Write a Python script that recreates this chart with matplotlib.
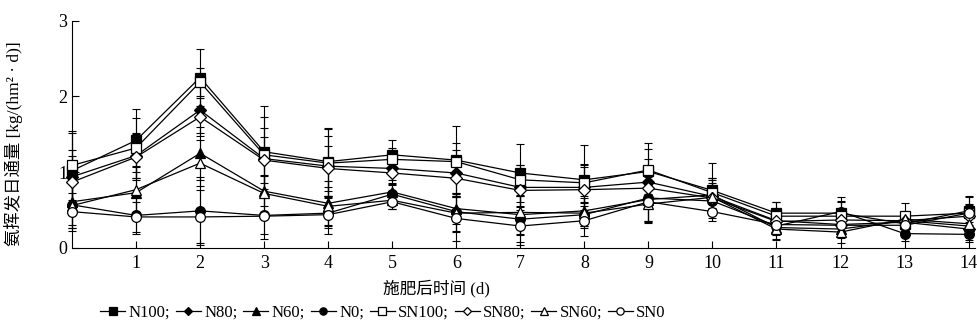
import matplotlib.pyplot as plt
import numpy as np

plt.rcParams['font.family'] = ['Liberation Serif', 'Noto Sans CJK SC']

days = np.arange(0, 15)

# mean values for each treatment
n100 = [1.02, 1.42, 2.25, 1.27, 1.14, 1.23, 1.16, 0.99, 0.90, 1.01, 0.76, 0.46, 0.46, 0.32, 0.49]
n80 = [0.94, 1.22, 1.82, 1.18, 1.08, 1.05, 0.99, 0.80, 0.80, 0.87, 0.68, 0.36, 0.31, 0.34, 0.25]
n60 = [0.61, 0.73, 1.25, 0.75, 0.59, 0.74, 0.52, 0.44, 0.49, 0.64, 0.70, 0.27, 0.25, 0.36, 0.29]
n0 = [0.57, 0.43, 0.49, 0.43, 0.46, 0.71, 0.48, 0.38, 0.44, 0.66, 0.62, 0.29, 0.48, 0.19, 0.18]
sn100 = [1.09, 1.32, 2.19, 1.23, 1.12, 1.17, 1.14, 0.90, 0.86, 1.03, 0.73, 0.42, 0.42, 0.42, 0.46]
sn80 = [0.87, 1.20, 1.73, 1.16, 1.05, 0.99, 0.92, 0.76, 0.77, 0.79, 0.66, 0.35, 0.37, 0.36, 0.42]
sn60 = [0.56, 0.77, 1.12, 0.72, 0.55, 0.63, 0.46, 0.47, 0.46, 0.58, 0.67, 0.25, 0.21, 0.38, 0.32]
sn0 = [0.48, 0.41, 0.41, 0.42, 0.44, 0.61, 0.39, 0.29, 0.36, 0.61, 0.48, 0.31, 0.30, 0.30, 0.46]

# standard deviations
n100_err = [0.50, 0.42, 0.37, 0.60, 0.45, 0.20, 0.22, 0.38, 0.46, 0.30, 0.36, 0.15, 0.15, 0.15, 0.18]
n80_err = [0.35, 0.30, 0.30, 0.40, 0.40, 0.15, 0.30, 0.30, 0.30, 0.30, 0.25, 0.15, 0.12, 0.15, 0.15]
n60_err = [0.30, 0.35, 0.35, 0.20, 0.30, 0.12, 0.20, 0.25, 0.20, 0.30, 0.20, 0.15, 0.12, 0.12, 0.12]
n0_err = [0.30, 0.25, 0.45, 0.25, 0.20, 0.12, 0.25, 0.30, 0.15, 0.30, 0.15, 0.12, 0.19, 0.10, 0.10]
sn100_err = [0.45, 0.40, 0.18, 0.50, 0.45, 0.15, 0.47, 0.20, 0.25, 0.35, 0.20, 0.19, 0.20, 0.18, 0.23]
sn80_err = [0.35, 0.30, 0.25, 0.30, 0.30, 0.15, 0.25, 0.20, 0.30, 0.25, 0.20, 0.12, 0.15, 0.10, 0.15]
sn60_err = [0.30, 0.30, 0.30, 0.25, 0.25, 0.12, 0.25, 0.30, 0.20, 0.25, 0.15, 0.15, 0.15, 0.10, 0.12]
sn0_err = [0.25, 0.20, 0.35, 0.30, 0.25, 0.10, 0.30, 0.25, 0.20, 0.25, 0.12, 0.10, 0.10, 0.10, 0.12]

labels = ['N100;', 'N80;', 'N60;', 'N0;', 'SN100;', 'SN80;', 'SN60;', 'SN0']
series = [n100, n80, n60, n0, sn100, sn80, sn60, sn0]
errors = [n100_err, n80_err, n60_err, n0_err, sn100_err, sn80_err, sn60_err, sn0_err]
markers = ['s', 'D', '^', 'o', 's', 'D', '^', 'o']
faces = ['black'] * 4 + ['white'] * 4
sizes = [7, 6, 7, 7, 7, 6, 7, 7]

fig = plt.figure(figsize=(9.77, 3.27), dpi=100)
ax = fig.add_axes([72 / 977, 1 - 248 / 327, (975 - 72) / 977, (248 - 20.7) / 327])

handles = []
for y, e, m, fc, ms, lab in zip(series, errors, markers, faces, sizes, labels):
    ax.errorbar(days, y, yerr=e, fmt='none', ecolor='black', elinewidth=0.8,
                capsize=3, capthick=0.8, clip_on=False, zorder=2)
    h, = ax.plot(days, y, color='black', lw=0.9, marker=m, ms=ms, mfc=fc,
                 mec='black', mew=0.9, clip_on=False, zorder=3, label=lab)
    handles.append(h)

ax.set_xlim(0, 14.1)
ax.set_ylim(0, 3)
ax.set_xticks(range(1, 15))
ax.set_yticks([0, 1, 2, 3])
ax.tick_params(direction='in', length=5, width=0.8, labelsize=13)
ax.tick_params(axis='x', pad=5)
ax.spines['top'].set_visible(False)
ax.spines['right'].set_visible(False)
for s in ['left', 'bottom']:
    ax.spines[s].set_linewidth(0.8)

fig.text(436 / 977, 1 - 288 / 327, '施肥后时间 (d)', ha='center', va='center', fontsize=12)
fig.text(14 / 977, 1 - 144 / 327, '氨挥发日通量 [kg/(hm² · d)]', rotation=90,
         ha='center', va='center', fontsize=12.5)

# legend markers a bit smaller than in the plot
leg = fig.legend(handles=handles, loc='center', bbox_to_anchor=(383 / 977, 1 - 313 / 327),
                 ncol=8, frameon=False, fontsize=12, handlelength=1.5, handletextpad=0.2,
                 columnspacing=0.35, markerscale=0.75)

fig.savefig('out.png', dpi=100)
